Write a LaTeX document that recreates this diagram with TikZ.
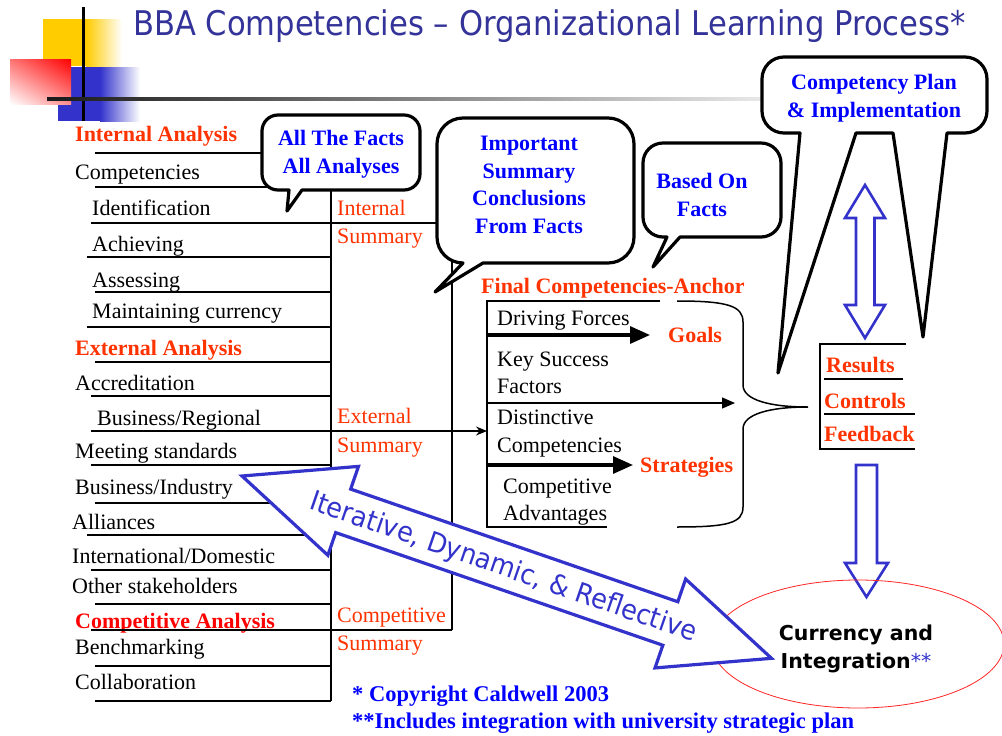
\documentclass[tikz,border=0pt]{standalone}
\usepackage{fontspec}
\usepackage{graphicx}
\setmainfont{Liberation Serif}
\newfontfamily\tahoma{DejaVu Sans}
\usetikzlibrary{arrows.meta,shadings}

\definecolor{titleblue}{RGB}{51,51,153}
\definecolor{arrowblue}{RGB}{51,51,204}
\definecolor{hdred}{RGB}{255,51,0}
\definecolor{bubblue}{RGB}{0,0,255}
\definecolor{sqyellow}{RGB}{255,204,0}

% rounded speech bubble: x0, y0, x1, y1, radius, tail segments on the bottom edge
\newcommand{\speechbubble}[6]{%
  \draw[bubble] (#1+#5,#2) -- (#3-#5,#2) arc[start angle=270,end angle=360,radius=#5]
    -- (#3,#4-#5) arc[start angle=0,end angle=90,radius=#5] #6
    -- (#1+#5,#4) arc[start angle=90,end angle=180,radius=#5]
    -- (#1,#2+#5) arc[start angle=180,end angle=270,radius=#5] -- cycle;}

\begin{document}
\begin{tikzpicture}[x=1pt,y=-1pt,
  item/.style={anchor=base west,inner sep=0pt,font=\fontsize{22}{26}\selectfont},
  heading/.style={item,text=hdred,font=\fontsize{22}{26}\selectfont\bfseries},
  sumlabel/.style={item,text=hdred},
  bubtext/.style={align=center,inner sep=0pt,text=bubblue,font=\fontsize{22}{27.5}\selectfont\bfseries},
  rule/.style={line width=1.3pt},
  frame/.style={line width=1.5pt},
  bubble/.style={draw,line width=3.2pt,fill=white,line join=round},
  hollow/.style={draw=arrowblue,line width=2.6pt,fill=white,line join=miter},
  fatarrow/.style={line width=3.2pt,-{Triangle[length=20pt,width=17pt]}},
  thinarrow/.style={line width=1.3pt,-{Triangle[length=13pt,width=11pt]}}]

\fill[white] (0,0) rectangle (1002,736);
\useasboundingbox (0,0) rectangle (1002,736);

% slide corner decoration
\fill[sqyellow] (43,19) rectangle (86,66);
\shade[left color=sqyellow,right color=white] (86,19) rectangle (122,66);
\fill[arrowblue] (58,67) rectangle (100,121);
\shade[left color=arrowblue,right color=white] (100,67) rectangle (140,121);
\shade[upper left=red!55,upper right=red,lower left=white,lower right=red!45] (10,59) rectangle (71,104);
\draw[line width=3pt] (83,7) -- (83,121);
\shade[left color=black!90,right color=black!8] (47,97.5) rectangle (770,100.5);

\node[anchor=base west,inner sep=0pt,text=titleblue,font=\tahoma\fontsize{34}{40}\selectfont] (title) at (133,35)
  {\scalebox{0.9}[1]{BBA Competencies – Organizational Learning Process*}};

% analyses on the left
\node[heading] (intA) at (75,141) {Internal Analysis};
\node[heading] (extA) at (75,355) {External Analysis};
\node[heading,text=red] (compA) at (75,628) {Competitive Analysis};

\foreach \xx/\yy/\txt [count=\i] in {75/179/Competencies, 92/215/Identification, 92/251/Achieving,
    92/287/Assessing, 92/318/Maintaining currency, 75/390/Accreditation, 97/425/{Business/Regional},
    75/458/Meeting standards, 75/494/{Business/Industry}, 72/529/Alliances,
    72/563/{International/Domestic}, 72/593/Other stakeholders, 75/654/Benchmarking, 75/689/Collaboration}
  \node[item] (e\i) at (\xx,\yy) {\txt};

\foreach \xa/\xb/\yy in {95/331/153, 95/331/187, 91/452/223, 87/331/257, 95/331/292, 87/331/327,
    95/331/362, 91/331/396, 91/331/465, 95/331/503, 87/331/535, 91/331/570, 95/331/604,
    91/452/630, 95/331/666, 95/331/701}
  \draw[rule] (\xa,\yy) -- (\xb,\yy);

% summary columns
\draw[frame] (331,187) -- (331,701);
\draw[frame] (452,223) -- (452,630);
\node[sumlabel] (intS1) at (337,215) {Internal};
\node[sumlabel] (intS2) at (337,243) {Summary};
\node[sumlabel] (extS1) at (337,423) {External};
\node[sumlabel] (extS2) at (337,452) {Summary};
\node[sumlabel] (cmpS1) at (337,622) {Competitive};
\node[sumlabel] (cmpS2) at (337,650) {Summary};

\coordinate (regStart) at (91,431);
\coordinate (boxIn) at (487,431);
\draw[rule,-{Stealth[length=11pt,width=9pt]}] (regStart) -- (boxIn);

% final competencies box
\node[heading] (fca) at (481,293) {Final Competencies-Anchor};
\draw[frame] (660,301) -- (487,301) -- (487,527) -- (607,527);
\coordinate (braceTip) at (808,407);
\draw[frame] (677,301) .. controls (728,301) and (743,306) .. (743,322) -- (743,385)
  .. controls (743,400) and (770,407) .. (braceTip)
  .. controls (770,407) and (743,414) .. (743,429) -- (743,507)
  .. controls (743,523) and (728,527) .. (677,527);

\node[item] (df) at (497,325) {Driving Forces};
\node[item] (ks1) at (497,366) {Key Success};
\node[item] (ks2) at (497,393) {Factors};
\node[item] (dc1) at (497,424) {Distinctive};
\node[item] (dc2) at (497,452) {Competencies};
\node[item] (ca1) at (503,493) {Competitive};
\node[item] (ca2) at (503,520) {Advantages};
\node[heading] (goals) at (668,342) {Goals};
\node[heading] (strat) at (640,472) {Strategies};

\coordinate (goalsIn) at (650,335);
\coordinate (braceIn) at (735,403);
\coordinate (stratIn) at (633,465);
\draw[fatarrow] (487,335) -- (goalsIn);
\draw[thinarrow] (487,403) -- (braceIn);
\draw[fatarrow] (487,465) -- (stratIn);

% results box
\draw[frame] (906,344) -- (820,344) -- (820,449) -- (915,449);
\draw[frame] (824,379) -- (903,379);
\draw[frame] (824,414) -- (915,414);
\node[heading] (res) at (826,372) {Results};
\node[heading] (ctl) at (824,408) {Controls};
\node[heading] (fbk) at (824,441) {Feedback};

% hollow blue arrows
\draw[hollow] (865,185) -- (885,218) -- (874.5,218) -- (874.5,305) -- (885,305) -- (865,338)
  -- (845,305) -- (856,305) -- (856,218) -- (845,218) -- cycle;
\draw[hollow] (856,465) -- (877,465) -- (877,563) -- (888,563) -- (866.5,597) -- (845,563) -- (856,563) -- cycle;

% currency and integration
\draw[red!85,line width=0.8pt] (858,644) ellipse [x radius=146pt,y radius=64pt];
\node[align=center,inner sep=0pt,font=\tahoma\fontsize{20.5}{28}\selectfont\bfseries] (curr) at (856,648.7)
  {Currency and\\Integration{\mdseries\color{arrowblue}**}};

% iterative double arrow
\begin{scope}[shift={(242,476)},rotate=-19]
  \draw[hollow,line width=3.2pt] (0,0) -- (107,-47) -- (107,-23) -- (453,-23) -- (453,-47) -- (560,0)
    -- (453,47) -- (453,23) -- (107,23) -- (107,47) -- cycle;
  \node[rotate=-19,text=arrowblue,font=\tahoma\fontsize{27.5}{30}\selectfont] (loop) at (277,2)
    {\scalebox{0.93}[1]{Iterative, Dynamic, \& Reflective}};
\end{scope}

% footnotes
\node[item,text=bubblue,font=\fontsize{22.5}{26}\selectfont\bfseries] (copy) at (352,701) {* Copyright Caldwell 2003};
\node[item,text=bubblue,font=\fontsize{22.5}{26}\selectfont\bfseries] (incl) at (352,728)
  {**Includes integration with university strategic plan};

% speech bubbles
\speechbubble{262}{115}{420}{190}{16}{-- (302,190) -- (287,211) -- (289,190)}
\node[bubtext] (facts) at (341,154) {All The Facts\\All Analyses};
\speechbubble{437}{118}{634}{263}{26}{-- (483,263) -- (435,292) -- (463,263)}
\node[bubtext] (concl) at (529,184.7) {Important\\Summary\\Conclusions\\From Facts};
\speechbubble{643}{143}{781}{237}{20}{-- (680,237) -- (653,267) -- (667,237)}
\node[bubtext] (based) at (702,195) {Based On\\Facts};
\speechbubble{762}{57}{987}{133}{22}{-- (947,133) -- (923,337) -- (893,133) -- (856,133) -- (778,373) -- (800,133)}
\node[bubtext] (plan) at (874,98) {Competency Plan\\\& Implementation};

\end{tikzpicture}
\end{document}
